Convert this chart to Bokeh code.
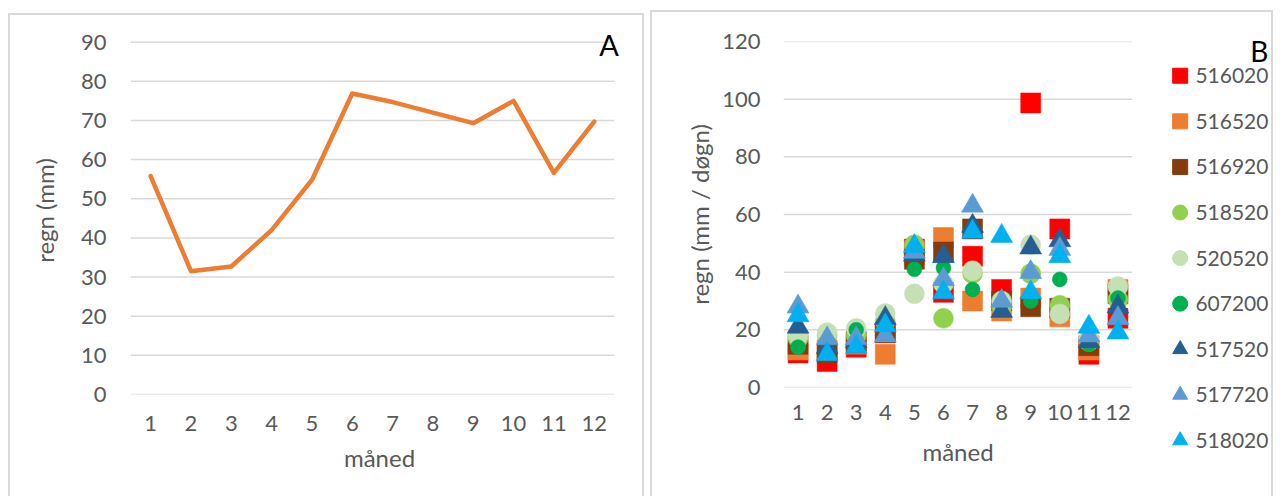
from bokeh.plotting import figure
from bokeh.models import FixedTicker, Range1d, Spacer
from bokeh.layouts import row, column
from bokeh.core.properties import value
from bokeh.embed import file_html
from bokeh.resources import INLINE

# ---------------- data ----------------
months = [1, 2, 3, 4, 5, 6, 7, 8, 9, 10, 11, 12]
yticks_a = [0, 10, 20, 30, 40, 50, 60, 70, 80, 90]
yticks_b = [0, 20, 40, 60, 80, 100, 120]

rain_mm = [55.8, 31.5, 32.7, 42.0, 54.8, 76.9, 74.7, 72.0, 69.3, 75.0, 56.6, 69.7]

stations = ["516020", "516520", "516920", "518520", "520520", "607200", "517520", "517720", "518020"]
s516020 = [12.0, 9.0, 14.0, 19.0, 48.0, 33.0, 45.5, 34.0, 98.7, 55.0, 11.5, 24.0]
s516520 = [13.0, 13.0, 15.0, 11.5, 46.0, 52.0, 30.0, 26.5, 31.0, 24.5, 13.0, 34.0]
s516920 = [15.0, 12.0, 16.0, 19.0, 44.5, 47.0, 55.0, 30.0, 28.0, 27.5, 14.5, 32.5]
s518520 = [17.0, 18.0, 18.0, 23.0, 49.5, 24.0, 39.5, 28.0, 39.5, 28.5, 16.0, 30.5]
s520520 = [18.0, 19.0, 20.5, 25.7, 32.5, 36.0, 40.5, 30.0, 49.5, 25.5, 17.0, 35.0]
s607200 = [14.0, 16.0, 20.0, 21.0, 41.0, 41.5, 34.0, 29.0, 30.0, 37.5, 15.0, 31.0]
s517520 = [21.0, 14.0, 16.0, 24.0, 46.0, 45.5, 56.0, 26.5, 48.5, 51.0, 16.0, 28.0]
s517720 = [28.0, 17.0, 17.0, 18.0, 47.0, 37.5, 63.0, 30.0, 40.0, 48.0, 18.0, 24.0]
s518020 = [25.0, 11.5, 14.0, 21.5, 49.0, 33.0, 54.0, 52.5, 33.0, 45.5, 21.0, 19.0]
series_b = [s516020, s516520, s516920, s518520, s520520, s607200, s517520, s517720, s518020]

colors = ["#FF0000", "#ED7D31", "#843C0C", "#92D050", "#C5E0B4", "#00B050", "#255E91", "#5B9BD5", "#00B0F0"]
markers = ["square", "square", "square", "circle", "circle", "circle", "triangle", "triangle", "triangle"]
msizes = [20, 20, 20, 20, 20, 15, 22, 22, 22]

FONT = "Lato"
GREY_TXT = "#595959"
GRID = "#d9d9d9"
BORDER = "2px solid #d9d9d9"


def style(p, xstand, xtitle_stand, ystand, ytitle_stand):
    p.xgrid.visible = False
    p.ygrid.visible = False
    p.outline_line_color = None
    for ax in (p.xaxis[0], p.yaxis[0]):
        ax.axis_line_color = None
        ax.major_tick_line_color = None
        ax.minor_tick_line_color = None
        ax.major_tick_out = 0
        ax.major_tick_in = 0
        ax.major_label_text_font = FONT
        ax.major_label_text_font_size = "22px"
        ax.major_label_text_color = GREY_TXT
        ax.axis_label_text_font = FONT
        ax.axis_label_text_font_size = "24px"
        ax.axis_label_text_color = GREY_TXT
        ax.axis_label_text_font_style = "normal"
    p.xaxis[0].major_label_standoff = xstand
    p.xaxis[0].axis_label_standoff = xtitle_stand
    p.yaxis[0].major_label_standoff = ystand
    p.yaxis[0].axis_label_standoff = ytitle_stand
    p.background_fill_color = "white"
    p.border_fill_color = "white"


def gridlines(p, ticks):
    n = len(ticks)
    p.segment(x0=[0.5] * n, x1=[12.5] * n, y0=ticks, y1=ticks, line_color=GRID, line_width=1.5)


# ---------------- panel A ----------------
pA = figure(frame_width=494, frame_height=366,
            min_border_left=120, min_border_right=18, min_border_top=11, min_border_bottom=104,
            x_range=Range1d(0.5, 12.85), y_range=Range1d(0, 94),
            output_backend="svg", toolbar_location=None,
            x_axis_label="måned", y_axis_label="regn (mm)")
pA.xaxis.ticker = FixedTicker(ticks=months)
pA.yaxis.ticker = FixedTicker(ticks=yticks_a)
style(pA, 21, 9, 24, 19)
gridlines(pA, yticks_a)
pA.line(months, rain_mm, line_color="#ED7D31", line_width=4.5, line_join="round", line_cap="round")
pA.text(x=[12.37], y=[89.3], text=["A"], text_font=value(FONT), text_font_size="29px",
        text_color="black", text_align="center", text_baseline="middle")
pA.styles = {"border-top": BORDER, "border-left": BORDER, "border-right": BORDER}

# ---------------- panel B ----------------
pB = figure(frame_width=347, frame_height=344,
            min_border_left=131, min_border_right=2, min_border_top=29, min_border_bottom=111,
            x_range=Range1d(0.5, 12.5), y_range=Range1d(0, 120),
            output_backend="svg", toolbar_location=None,
            x_axis_label="måned", y_axis_label="regn (mm / døgn)")
pB.xaxis.ticker = FixedTicker(ticks=months)
pB.yaxis.ticker = FixedTicker(ticks=yticks_b)
style(pB, 17, 14, 23, 5)
gridlines(pB, yticks_b)
for name, vals, col, mk, sz in zip(stations, series_b, colors, markers, msizes):
    pB.scatter(months, vals, marker=mk, size=sz, fill_color=col, line_color=col, line_width=0.5)
pB.styles = {"border-top": BORDER, "border-left": BORDER}

# ---------------- legend panel (part of B) ----------------
pL = figure(frame_width=139, frame_height=484, min_border=0,
            x_range=Range1d(0, 139), y_range=Range1d(484, 0),
            output_backend="svg", toolbar_location=None)
pL.axis.visible = False
pL.grid.visible = False
pL.outline_line_color = None
pL.background_fill_color = "white"
pL.border_fill_color = "white"
leg_y = [63 + 45.4 * i for i in range(len(stations))]
for i, (name, col, mk) in enumerate(zip(stations, colors, markers)):
    pL.scatter([47], [leg_y[i]], marker=mk, size=15, fill_color=col, line_color=col)
pL.text(x=[62] * len(stations), y=leg_y, text=stations, text_font=value(FONT),
        text_font_size="21px", text_color=GREY_TXT, text_align="left", text_baseline="middle")
pL.text(x=[125], y=[38], text=["B"], text_font=value(FONT), text_font_size="28px",
        text_color="black", text_align="center", text_baseline="middle")
pL.styles = {"border-top": BORDER, "border-right": BORDER}

layout = row(Spacer(width=8, height=10),
             column(Spacer(height=13, width=10), pA), Spacer(width=6, height=10),
             column(Spacer(height=10, width=10), pB), column(Spacer(height=10, width=10), pL))
open("out.html", "w").write(file_html(layout, INLINE))
